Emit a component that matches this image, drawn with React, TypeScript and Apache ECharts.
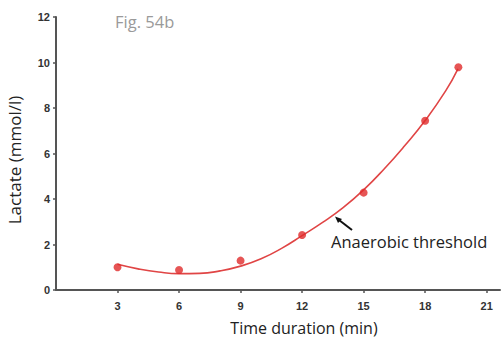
import React, { useEffect, useRef } from "react";
import * as echarts from "echarts";

const xTicks = [3, 6, 9, 12, 15, 18, 21];
const measuredPoints: [number, number][] = [
  [3, 1.0], [6, 0.88], [9, 1.29], [12, 2.42], [15, 4.28], [18, 7.44], [19.62, 9.79],
];
const fitCurve: [number, number][] = [
  [3, 1.13], [4, 0.93], [5, 0.79], [6, 0.72], [7, 0.73], [8, 0.84], [9, 1.05],
  [10, 1.37], [11, 1.83], [12, 2.39], [13, 2.97], [14, 3.62], [15, 4.4],
  [16, 5.32], [17, 6.34], [18, 7.45], [19, 8.75], [19.6, 9.72],
];
const xName = "Time duration (min)";
const yName = "Lactate (mmol/l)";

const FONT = "'Open Sans', sans-serif";
const TICK_FONT = "'Liberation Sans', Arial, sans-serif";

export default function App() {
  const ref = useRef<HTMLDivElement>(null);
  useEffect(() => {
    if (!ref.current) return;
    const chart = echarts.init(ref.current, null, { renderer: "svg" });
    chart.setOption({
      animation: false,
      backgroundColor: "#ffffff",
      grid: { left: 56, right: 1, top: 17, bottom: 49, outerBoundsMode: "none", containLabel: false },
      xAxis: {
        type: "value",
        min: 0,
        max: 21.65,
        axisLine: { lineStyle: { color: "#555", width: 2 } },
        axisTick: { customValues: xTicks, length: 3, lineStyle: { color: "#555", width: 1.5 } },
        axisLabel: {
          customValues: xTicks,
          fontFamily: TICK_FONT,
          fontWeight: "bold",
          fontSize: 11,
          color: "#333",
          margin: 10,
        },
        splitLine: { show: false },
      },
      yAxis: {
        type: "value",
        min: 0,
        max: 12,
        interval: 2,
        axisLine: { show: true, lineStyle: { color: "#555", width: 2 } },
        axisTick: { show: true, length: 3, lineStyle: { color: "#555", width: 1.5 } },
        axisLabel: {
          fontFamily: TICK_FONT,
          fontWeight: "bold",
          fontSize: 11,
          color: "#333",
          margin: 6,
        },
        splitLine: { show: false },
      },
      graphic: [
        {
          type: "text",
          x: 304,
          y: 328,
          style: { text: xName, fontFamily: FONT, fontSize: 16, fill: "#222", align: "center", verticalAlign: "middle" },
        },
        {
          type: "text",
          x: 14,
          y: 160,
          rotation: Math.PI / 2,
          style: { text: yName, fontFamily: FONT, fontSize: 17, fill: "#222", align: "center", verticalAlign: "middle" },
        },
        {
          type: "text",
          left: 115,
          top: 13,
          style: { text: "Fig. 54b", fontFamily: FONT, fontSize: 16.5, fill: "#9a9a9a" },
        },
        {
          type: "text",
          left: 331,
          top: 233,
          style: { text: "Anaerobic threshold", fontFamily: FONT, fontSize: 16.5, fill: "#222" },
        },
        {
          type: "line",
          shape: { x1: 352, y1: 230, x2: 339, y2: 220 },
          style: { stroke: "#111", lineWidth: 2 },
        },
        {
          type: "polygon",
          shape: { points: [[335, 216.5], [342, 219], [338, 223]] },
          style: { fill: "#111" },
        },
      ],
      series: [
        {
          type: "line",
          data: fitCurve,
          smooth: true,
          showSymbol: false,
          lineStyle: { color: "#e04545", width: 1.6 },
          z: 2,
        },
        {
          type: "scatter",
          data: measuredPoints,
          symbolSize: 8,
          itemStyle: { color: "#e02a2a" },
          z: 3,
        },
      ],
    });
    return () => chart.dispose();
  }, []);
  return <div ref={ref} style={{ width: 501, height: 339, position: "absolute", left: 0, top: 0 }} />;
}
